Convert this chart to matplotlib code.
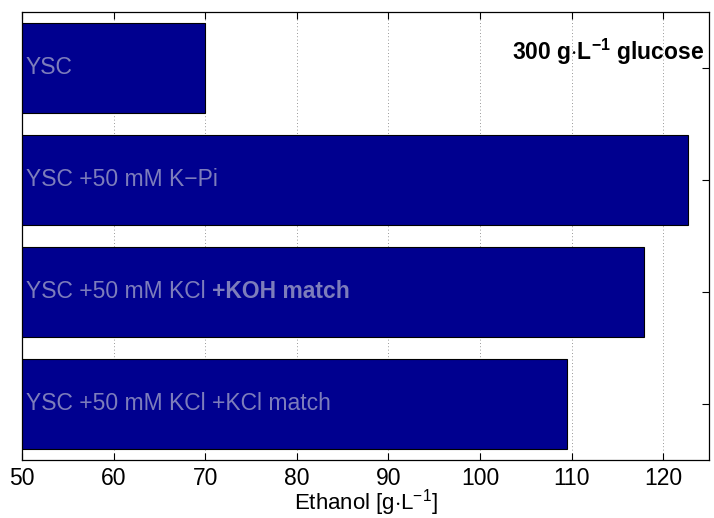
import numpy as np
import matplotlib as mpl
mpl.use("Agg")
import matplotlib.pyplot as plt

mpl.rcParams["font.family"] = ["Liberation Sans", "DejaVu Sans"]
mpl.rcParams["mathtext.fontset"] = "custom"
mpl.rcParams["mathtext.rm"] = "Liberation Sans"
mpl.rcParams["mathtext.it"] = "Liberation Sans:italic"
mpl.rcParams["mathtext.bf"] = "Liberation Sans:bold"

# bottom to top (MATLAB barh order)
labels = ["YSC +50 mM KCl +KCl match", "YSC +50 mM KCl ", "YSC +50 mM K\u2212Pi", "YSC"]
bold_suffix = ["", "+KOH match", "", ""]
ethanol = [109.5, 117.9, 122.7, 70.0]
xticks = [50, 60, 70, 80, 90, 100, 110, 120]

FS = 16.5

fig = plt.figure(figsize=(7.14, 5.18), dpi=100)
ax = fig.add_axes([22 / 714, 1 - 460 / 518, 687 / 714, 448 / 518])

pos = np.arange(1, len(ethanol) + 1)
ax.barh(pos, ethanol, height=0.8, color="#00008f", edgecolor="black", lw=0.8, zorder=2)
ax.set_xlim(50, 125)
ax.set_ylim(0.5, 4.5)
ax.set_xticks(xticks)
ax.set_yticks(pos)
ax.tick_params(axis="x", direction="in", top=True, labelsize=FS, length=5, pad=5)
ax.tick_params(axis="y", direction="in", left=False, right=True, labelleft=False, length=5)
ax.xaxis.grid(True, ls=(0, (1, 3)), color="#777777", lw=0.6, zorder=0)
ax.set_axisbelow(True)
for s in ax.spines.values():
    s.set_linewidth(0.9)

tcol = "#7d7dbb"
for y, lab, bsuf in zip(pos, labels, bold_suffix):
    t = ax.text(50.4, y, lab, color=tcol, fontsize=FS, va="center", ha="left", zorder=3)
    if bsuf:
        ax.annotate(bsuf, xy=(1, 0), xycoords=t, color=tcol, fontsize=FS,
                    fontweight="bold", va="bottom", ha="left", zorder=3)

ax.text(0.993, 0.91, r"300 g$\cdot$L$^{\mathbf{-1}}$ glucose", transform=ax.transAxes,
        ha="right", va="center", fontsize=FS, fontweight="bold")
# x label placed by hand so the bracket stays inside the canvas
fig.text(365.5 / 714, 8 / 518, r"Ethanol [g$\cdot$L$^{-1}$]", fontsize=16,
         ha="center", va="baseline")

fig.savefig("out.png", dpi=100)
